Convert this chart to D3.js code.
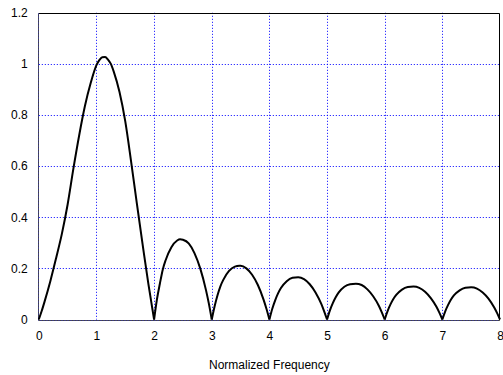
<!DOCTYPE html>
<html lang="en">
<head>
  <meta charset="utf-8" />
  <title>Normalized Frequency Response</title>
  <script src="https://d3js.org/d3.v7.min.js"></script>
  <style>
    body { margin: 0; padding: 0; background: #ffffff; }
    #chart svg { display: block; }
    .tick-label { font-family: "Liberation Sans", Arial, sans-serif; font-size: 12px; fill: #000; }
    .grid line { stroke: #0000ff; stroke-width: 1; stroke-dasharray: 1,2; }
  </style>
</head>
<body>
<div id="chart"></div>
<script>
// ---- data ----
const xTicks = [0, 1, 2, 3, 4, 5, 6, 7, 8];
const yTicks = [0, 0.2, 0.4, 0.6, 0.8, 1, 1.2];
const yTickLabels = ["0", "0.2", "0.4", "0.6", "0.8", "1", "1.2"];
const xLabel = "Normalized Frequency";

const freq = [
  0, 0.05, 0.1, 0.2, 0.3, 0.4, 0.5, 0.6, 0.7, 0.8, 0.9, 1.0, 1.05, 1.1, 1.15, 1.2, 1.25, 1.3, 1.4, 1.5, 1.6, 1.7, 1.8, 1.9, 1.95, 2.0,
  2.05, 2.1, 2.15, 2.2, 2.3, 2.4, 2.45, 2.5, 2.6, 2.7, 2.8, 2.9, 2.95, 3.0,
  3.05, 3.1, 3.15, 3.2, 3.3, 3.4, 3.48, 3.5, 3.6, 3.7, 3.8, 3.9, 3.95, 4.0,
  4.05, 4.1, 4.15, 4.2, 4.3, 4.4, 4.5, 4.6, 4.7, 4.8, 4.9, 4.95, 5.0,
  5.05, 5.1, 5.15, 5.2, 5.3, 5.4, 5.5, 5.6, 5.7, 5.8, 5.9, 5.95, 6.0,
  6.05, 6.1, 6.15, 6.2, 6.3, 6.4, 6.5, 6.6, 6.7, 6.8, 6.9, 6.95, 7.0,
  7.05, 7.1, 7.15, 7.2, 7.3, 7.4, 7.5, 7.6, 7.7, 7.8, 7.9, 7.95, 8.0
];
const magnitude = [
  0, 0.033, 0.07, 0.15, 0.24, 0.335, 0.45, 0.59, 0.72, 0.835, 0.925, 0.995, 1.015, 1.026, 1.027, 1.017, 1.0, 0.97, 0.89, 0.775, 0.62, 0.455, 0.295, 0.14, 0.07, 0,
  0.08, 0.14, 0.195, 0.232, 0.283, 0.309, 0.314, 0.312, 0.298, 0.26, 0.2, 0.115, 0.062, 0,
  0.052, 0.095, 0.13, 0.155, 0.19, 0.207, 0.21, 0.21, 0.2, 0.175, 0.135, 0.077, 0.041, 0,
  0.042, 0.075, 0.102, 0.123, 0.15, 0.163, 0.165, 0.158, 0.138, 0.106, 0.061, 0.032, 0,
  0.036, 0.064, 0.087, 0.105, 0.128, 0.138, 0.14, 0.135, 0.118, 0.091, 0.053, 0.028, 0,
  0.033, 0.059, 0.08, 0.096, 0.117, 0.127, 0.129, 0.124, 0.109, 0.084, 0.049, 0.026, 0,
  0.032, 0.057, 0.078, 0.094, 0.114, 0.124, 0.126, 0.121, 0.106, 0.082, 0.047, 0.025, 0
];

// ---- setup ----
const W = 503, H = 375;
const plot = { left: 38.8, right: 500, top: 12.8, bottom: 319.5 };

const svg = d3.select("#chart").append("svg")
  .attr("width", W)
  .attr("height", H);

const x = d3.scaleLinear().domain([0, 8]).range([plot.left, plot.right]);
const y = d3.scaleLinear().domain([0, 1.2]).range([plot.bottom, plot.top]);

// grid (dotted blue)
const grid = svg.append("g").attr("class", "grid");
grid.selectAll(".vgrid")
  .data(xTicks.slice(1, -1))
  .enter().append("line")
    .attr("x1", d => Math.round(x(d)) + 0.5)
    .attr("x2", d => Math.round(x(d)) + 0.5)
    .attr("y1", plot.top)
    .attr("y2", plot.bottom);
grid.selectAll(".hgrid")
  .data(yTicks.slice(1, -1))
  .enter().append("line")
    .attr("x1", plot.left)
    .attr("x2", plot.right)
    .attr("y1", d => Math.round(y(d)) + 0.5)
    .attr("y2", d => Math.round(y(d)) + 0.5);

// frame: top & right solid, left & bottom dark with blue dots on top
const L = Math.round(plot.left) - 0.5, R = Math.round(plot.right) - 0.5;
const T = Math.round(plot.top) + 0.5, B = Math.round(plot.bottom) + 0.5;
svg.append("path")
  .attr("d", `M${L},${T}H${R}V${B}`)
  .attr("fill", "none").attr("stroke", "#000").attr("stroke-width", 1);
svg.append("path")
  .attr("d", `M${L},${T}V${B}H${R}`)
  .attr("fill", "none").attr("stroke", "#444").attr("stroke-width", 1);
svg.append("path")
  .attr("d", `M${L},${T}V${B}H${R}`)
  .attr("fill", "none").attr("stroke", "#3030ff").attr("stroke-width", 1)
  .attr("stroke-dasharray", "1,2").attr("opacity", 0.6);

// axes labels via d3 axes (no domain / tick lines)
const yAxis = svg.append("g")
  .attr("transform", `translate(${plot.left},0)`)
  .call(d3.axisLeft(y).tickValues(yTicks).tickFormat((d, i) => yTickLabels[i]).tickSize(0).tickPadding(11));
yAxis.select(".domain").remove();
yAxis.selectAll("text").attr("class", "tick-label").attr("font-family", null).attr("font-size", null);

const xAxis = svg.append("g")
  .attr("transform", `translate(0,${plot.bottom})`)
  .call(d3.axisBottom(x).tickValues(xTicks).tickFormat(d3.format("d")).tickSize(0).tickPadding(12));
xAxis.select(".domain").remove();
xAxis.selectAll("text").attr("class", "tick-label").attr("font-family", null).attr("font-size", null);

svg.append("text")
  .attr("class", "tick-label")
  .attr("x", (plot.left + plot.right) / 2)
  .attr("y", 369)
  .attr("text-anchor", "middle")
  .style("font-size", "12px")
  .text(xLabel);

// curve: one path per lobe so the zeros stay sharp
const pts = freq.map((f, i) => ({ f: f, m: magnitude[i] }));
const lobes = [];
let cur = [];
pts.forEach((p, i) => {
  cur.push(p);
  if (p.m === 0 && i > 0) {
    lobes.push(cur);
    cur = [p];
  }
});

const line = d3.line()
  .x(d => x(d.f))
  .y(d => y(d.m))
  .curve(d3.curveMonotoneX);

svg.selectAll(".lobe")
  .data(lobes)
  .enter().append("path")
    .attr("class", "lobe")
    .attr("d", line)
    .attr("fill", "none")
    .attr("stroke", "#000")
    .attr("stroke-width", 2);
</script>
</body>
</html>
